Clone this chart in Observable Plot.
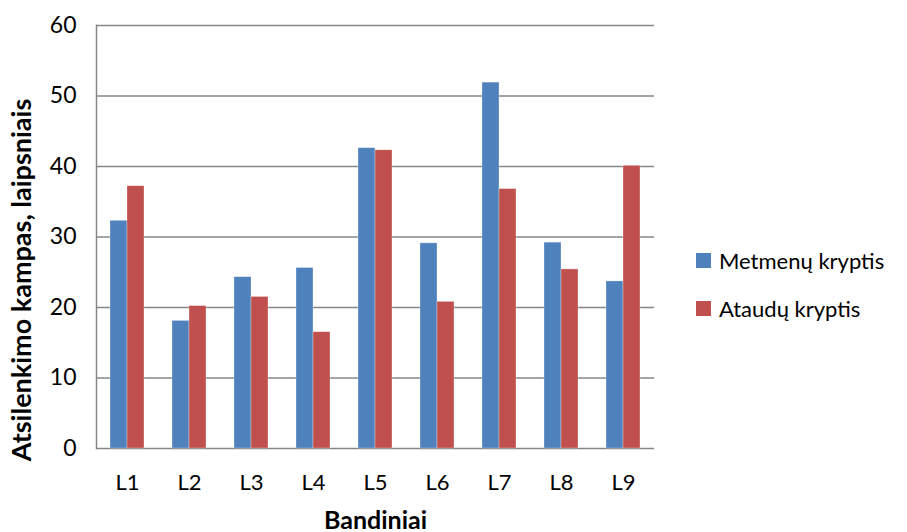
<!DOCTYPE html>
<html>
<head>
<meta charset="utf-8">
<script src="https://cdn.jsdelivr.net/npm/d3@7"></script>
<script src="https://cdn.jsdelivr.net/npm/@observablehq/plot@0.6"></script>
<style>
  html, body { margin: 0; padding: 0; background: #fff; }
  #wrap { position: relative; width: 907px; height: 532px; font-family: Lato, "Open Sans", sans-serif; }
  #legend { position: absolute; left: 696px; top: 247px; font-size: 22px; color: #000; }
  .item { display: flex; align-items: center; height: 26px; margin-bottom: 22px; }
  .sw { width: 15px; height: 15px; margin-right: 8px; }
  #chart svg g[aria-label="fx-axis label"] text { font-weight: bold; font-size: 25px; }
</style>
</head>
<body>
<div id="wrap"><div id="chart"></div><div id="legend"></div></div>
<script>
const categories = ["L1", "L2", "L3", "L4", "L5", "L6", "L7", "L8", "L9"];
const seriesNames = ["Metmenų kryptis", "Ataudų kryptis"];
const metmenu = [32.3, 18.1, 24.3, 25.6, 42.6, 29.1, 51.9, 29.2, 23.7];
const ataudu = [37.2, 20.2, 21.5, 16.5, 42.3, 20.8, 36.8, 25.4, 40.1];
const colors = ["#4F81BD", "#C0504D"];
const yTicks = [0, 10, 20, 30, 40, 50, 60];
const yTitle = "Atsilenkimo kampas, laipsniais";
const xTitle = "Bandiniai";

const data = [];
categories.forEach((c, i) => {
  data.push({cat: c, series: seriesNames[0], value: metmenu[i]});
  data.push({cat: c, series: seriesNames[1], value: ataudu[i]});
});

const chart = Plot.plot({
  width: 907,
  height: 532,
  marginLeft: 96,
  marginRight: 253,
  marginTop: 25,
  marginBottom: 84,
  style: {fontFamily: "Lato, 'Open Sans', sans-serif", fontSize: "22px", color: "#000", background: "#fff"},
  fx: {domain: categories, padding: 0, label: null},
  x: {domain: seriesNames, paddingInner: 0, paddingOuter: 0.77, axis: null},
  y: {domain: [0, 60], ticks: yTicks, label: null},
  color: {domain: seriesNames, range: colors},
  marks: [
    Plot.ruleY(yTicks, {stroke: "#868686", strokeWidth: 1.5}),
    Plot.frame({anchor: "left", facet: "super", stroke: "#868686", strokeWidth: 1.5}),
    Plot.barY(data, {fx: "cat", x: "series", y: "value", fill: "series", stroke: "#ffffff", strokeOpacity: 0.5, strokeWidth: 0.6}),
    Plot.axisY({ticks: yTicks, tickSize: 0, tickPadding: 20, fontSize: 23, label: null}),
    Plot.text([yTitle], {facet: "super", frameAnchor: "left", rotate: -90, textAnchor: "middle", dx: -74, dy: 43, fontWeight: "bold", fontSize: 27, fill: "#000"}),
    Plot.axisFx({anchor: "bottom", tickSize: 0, tickPadding: 26, fontSize: 22, label: xTitle, labelAnchor: "center", labelArrow: "none", labelOffset: 80}),
  ]
});
document.getElementById("chart").appendChild(chart);

const legend = document.getElementById("legend");
seriesNames.forEach((s, i) => {
  const it = document.createElement("div");
  it.className = "item";
  it.innerHTML = `<div class="sw" style="background:${colors[i]}"></div><span>${s}</span>`;
  legend.appendChild(it);
});
</script>
</body>
</html>
